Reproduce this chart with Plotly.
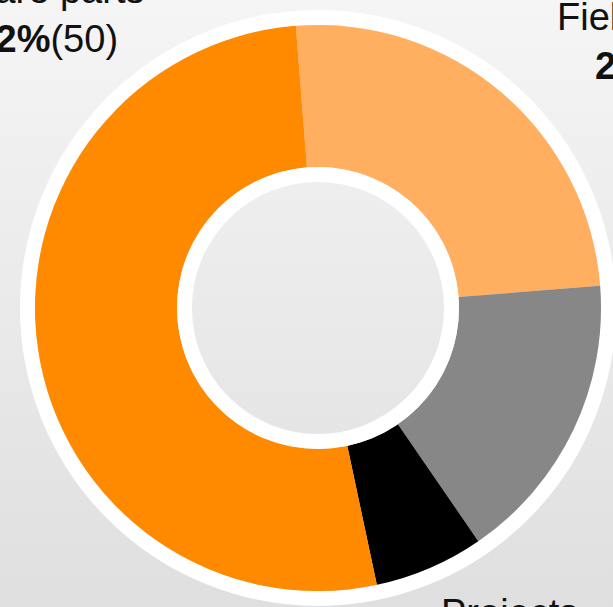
import base64
import plotly.graph_objects as go

# ---- data ----
labels = ["Field Service", "Other", "Projects", "Spare parts"]
values = [24, 16, 6, 50]
colors = ["#FFAF5F", "#878787", "#000000", "#FF8A00"]
label_texts = {
    "Spare parts": ("Spare parts", "52%", "(50)"),
    "Field Service": ("Field Service", "25%", "(24)"),
    "Projects": ("Projects", "6%", "(6)"),
}

W, H = 613, 607
CX, CY = 318, 308          # pixel centre (from top)
R_OUT, R_IN_RING, R_HOLE = 283, 141, 126
RING_W = 15

fig = go.Figure()
fig.add_trace(go.Pie(
    labels=labels, values=values, sort=False, direction="clockwise",
    rotation=-4.5, hole=R_IN_RING / R_OUT, textinfo="none", hoverinfo="skip",
    marker=dict(colors=colors, line=dict(width=0)), showlegend=False,
    domain=dict(x=[(CX - R_OUT) / W, (CX + R_OUT) / W],
                y=[(H - CY - R_OUT) / H, (H - CY + R_OUT) / H]),
))

def circ(r, layer):
    return dict(type="circle", xref="paper", yref="paper",
                x0=(CX - r) / W, x1=(CX + r) / W,
                y0=(H - CY - r) / H, y1=(H - CY + r) / H,
                line=dict(color="white", width=RING_W), fillcolor="rgba(0,0,0,0)",
                layer=layer)

shapes = [circ(R_OUT + RING_W / 2, "below"), circ(R_HOLE + RING_W / 2, "above")]

svg = ('<svg xmlns="http://www.w3.org/2000/svg" width="100" height="100" preserveAspectRatio="none">'
       '<defs><linearGradient id="g" x1="0" y1="0" x2="0" y2="1">'
       '<stop offset="0" stop-color="#f5f5f5"/><stop offset="1" stop-color="#dfdfdf"/>'
       '</linearGradient></defs><rect width="100" height="100" fill="url(#g)"/></svg>')
src = "data:image/svg+xml;base64," + base64.b64encode(svg.encode()).decode()

FS = 38
def ann(key, xpx, baseline_px):
    l1, pct, cnt = label_texts[key]
    top = baseline_px - 1 - 0.905 * FS
    return dict(xref="paper", yref="paper", x=xpx / W, y=1 - top / H,
                xanchor="center", yanchor="top", showarrow=False, align="center",
                text=f"{l1}<br><b>{pct}</b>{cnt}",
                font=dict(family="Liberation Sans, Arial, sans-serif", size=FS, color="#111111"))

annotations = [
    ann("Spare parts", 46, 2),
    ann("Field Service", 667, 29),
    ann("Projects", 509, 625),
]

fig.update_layout(
    width=W, height=H, margin=dict(l=0, r=0, t=0, b=0),
    paper_bgcolor="#eaeaea", plot_bgcolor="rgba(0,0,0,0)",
    shapes=shapes, annotations=annotations,
    images=[dict(source=src, xref="paper", yref="paper", x=0, y=1, sizex=1, sizey=1,
                 xanchor="left", yanchor="top", sizing="stretch", layer="below")],
)
fig.write_html("out.html", config={"displayModeBar": False},
               post_script="document.body.style.margin='0';document.body.style.overflow='hidden';")
